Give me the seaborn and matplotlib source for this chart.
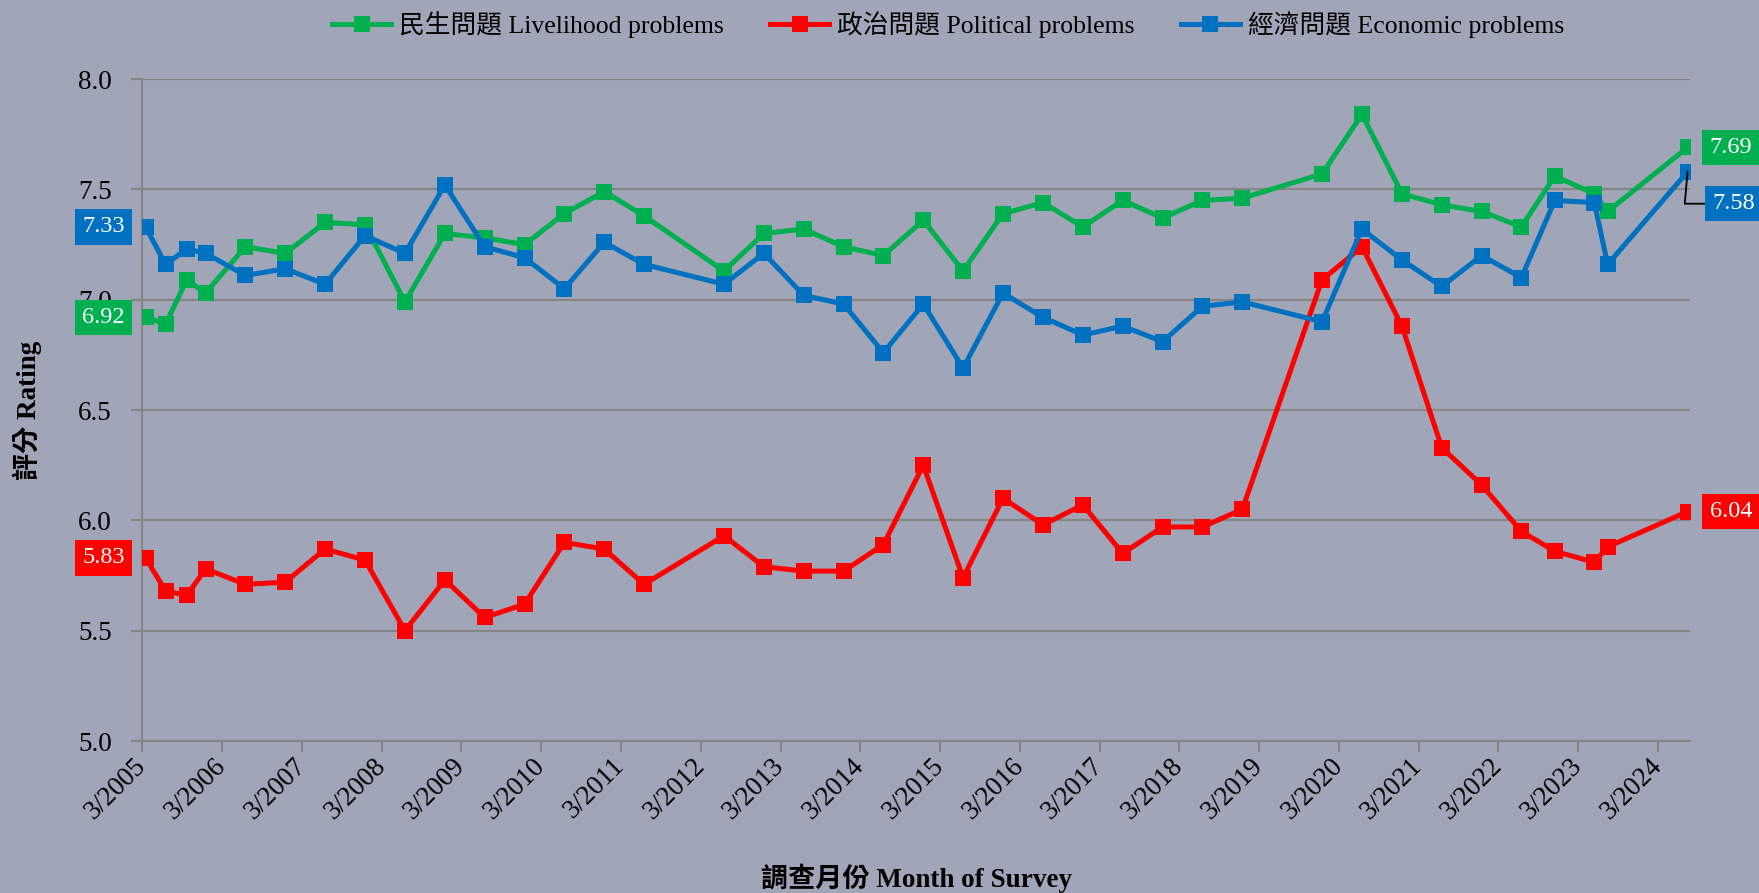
import pandas as pd
import seaborn as sns
import matplotlib.pyplot as plt
import matplotlib.dates as mdates
import matplotlib.ticker as mticker

# -------------------------------------------------------
# DATA
# -------------------------------------------------------
survey_dates = [
    "2005-03-15", "2005-06-15", "2005-09-20", "2005-12-15",
    "2006-06-15", "2006-12-15", "2007-06-15", "2007-12-15",
    "2008-06-15", "2008-12-15", "2009-06-15", "2009-12-15",
    "2010-06-15", "2010-12-15", "2011-06-15", "2012-06-15",
    "2012-12-15", "2013-06-15", "2013-12-15", "2014-06-15",
    "2014-12-15", "2015-06-15", "2015-12-15", "2016-06-15",
    "2016-12-15", "2017-06-15", "2017-12-15", "2018-06-15",
    "2018-12-15", "2019-12-15", "2020-06-15", "2020-12-15",
    "2021-06-15", "2021-12-15", "2022-06-15", "2022-11-15",
    "2023-05-15", "2023-07-15", "2024-07-15",
]

livelihood = [6.92, 6.89, 7.09, 7.03, 7.24, 7.21, 7.35, 7.34, 6.99, 7.30,
              7.28, 7.25, 7.39, 7.49, 7.38, 7.13, 7.30, 7.32, 7.24, 7.20,
              7.36, 7.13, 7.39, 7.44, 7.33, 7.45, 7.37, 7.45, 7.46, 7.57,
              7.84, 7.48, 7.43, 7.40, 7.33, 7.56, 7.48, 7.40, 7.69]

political = [5.83, 5.68, 5.66, 5.78, 5.71, 5.72, 5.87, 5.82, 5.50, 5.73,
             5.56, 5.62, 5.90, 5.87, 5.71, 5.93, 5.79, 5.77, 5.77, 5.89,
             6.25, 5.74, 6.10, 5.98, 6.07, 5.85, 5.97, 5.97, 6.05, 7.09,
             7.24, 6.88, 6.33, 6.16, 5.95, 5.86, 5.81, 5.88, 6.04]

economic = [7.33, 7.16, 7.23, 7.21, 7.11, 7.14, 7.07, 7.29, 7.21, 7.52,
            7.24, 7.19, 7.05, 7.26, 7.16, 7.07, 7.21, 7.02, 6.98, 6.76,
            6.98, 6.69, 7.03, 6.92, 6.84, 6.88, 6.81, 6.97, 6.99, 6.90,
            7.32, 7.18, 7.06, 7.20, 7.10, 7.45, 7.44, 7.16, 7.58]

series_cols = ['livelihood', 'political', 'economic']
series_names = ['民生問題 Livelihood problems',
                '政治問題 Political problems',
                '經濟問題 Economic problems']
series_colors = ['#00B050', '#FF0000', '#0070C0']

y_ticks = [5.0, 5.5, 6.0, 6.5, 7.0, 7.5, 8.0]

df = pd.DataFrame({
    'date': pd.to_datetime(survey_dates),
    'livelihood': livelihood,
    'political': political,
    'economic': economic,
})

# -------------------------------------------------------
# FIGURE
# -------------------------------------------------------
plt.rcParams['font.family'] = ['Liberation Serif', 'Noto Sans CJK TC']

bg = '#A0A5B7'
grid_c = '#858585'

fig, ax = plt.subplots(figsize=(17.59, 8.93), dpi=100)
fig.patch.set_facecolor(bg)
ax.set_facecolor(bg)
fig.subplots_adjust(left=0.081, right=0.961, top=0.9115, bottom=0.1702)

for col, name, color in zip(series_cols, series_names, series_colors):
    sns.lineplot(data=df, x='date', y=col, ax=ax, color=color, label=name,
                 marker='s', markersize=11.5, markeredgewidth=0,
                 linewidth=3.6, zorder=3)

# axes styling
ax.set_ylim(5.0, 8.0)
ax.set_yticks(y_ticks)
ax.yaxis.set_major_formatter(mticker.FormatStrFormatter('%.1f'))
ax.set_xlim(mdates.date2num(pd.Timestamp('2005-03-01')),
            mdates.date2num(pd.Timestamp('2024-07-28')))
ax.xaxis.set_major_locator(mdates.MonthLocator(bymonth=3, bymonthday=1))
ax.xaxis.set_major_formatter(mticker.FuncFormatter(
    lambda v, _: f"{mdates.num2date(v).month}/{mdates.num2date(v).year}"))

ax.grid(axis='y', color=grid_c, linewidth=1.5, zorder=0)
ax.grid(axis='x', visible=False)
for side in ['top', 'right']:
    ax.spines[side].set_visible(False)
for side in ['left', 'bottom']:
    ax.spines[side].set_color(grid_c)
    ax.spines[side].set_linewidth(1.5)

ax.tick_params(axis='both', direction='out', length=8, width=1.5,
               color=grid_c, labelsize=19.5, labelcolor='black')
ax.tick_params(axis='y', pad=14)
ax.tick_params(axis='x', pad=7)
for lab in ax.get_xticklabels():
    lab.set_rotation(45)
    lab.set_ha('right')
    lab.set_va('center')
    lab.set_rotation_mode('anchor')

ax.set_xlabel('調查月份 Month of Survey', fontsize=19.5, fontweight='bold')
ax.set_ylabel('評分 Rating', fontsize=19.5, fontweight='bold')
ax.xaxis.set_label_coords(0.5, -0.185)
ax.yaxis.set_label_coords(-0.065, 0.5)

# legend on top
handles, labels = ax.get_legend_handles_labels()
ax.legend(handles, labels, loc='center', bbox_to_anchor=(0.539, 0.972),
          bbox_transform=fig.transFigure, ncol=3, frameon=False,
          fontsize=18.5, handlelength=2.3, handletextpad=0.3,
          columnspacing=1.8)

# -------------------------------------------------------
# END-POINT VALUE TAGS
# -------------------------------------------------------
x_first = mdates.date2num(df['date'].iloc[0])
x_last = mdates.date2num(df['date'].iloc[-1])
tag_box = dict(boxstyle='square,pad=0.3', ec='none')

for col, color in zip(series_cols, series_colors):
    v0 = df[col].iloc[0]
    ax.annotate(f"{v0:.2f}", xy=(x_first, v0), xytext=(-21, 0),
                textcoords='offset pixels', ha='right', va='center',
                color='white', fontsize=17.5, annotation_clip=False,
                bbox=dict(tag_box, fc=color))

    v1 = df[col].iloc[-1]
    if col == 'economic':
        ax.annotate(f"{v1:.2f}", xy=(x_last, v1), xytext=(25, -32),
                    textcoords='offset pixels', ha='left', va='center',
                    color='white', fontsize=17.5, annotation_clip=False,
                    bbox=dict(tag_box, fc=color),
                    arrowprops=dict(arrowstyle='-', color='black', lw=1.3,
                                    shrinkA=0, shrinkB=0,
                                    connectionstyle='angle,angleA=0,angleB=85,rad=0'))
    else:
        ax.annotate(f"{v1:.2f}", xy=(x_last, v1), xytext=(22, 0),
                    textcoords='offset pixels', ha='left', va='center',
                    color='white', fontsize=17.5, annotation_clip=False,
                    bbox=dict(tag_box, fc=color))

fig.savefig('out.png', dpi=100, facecolor=bg)
